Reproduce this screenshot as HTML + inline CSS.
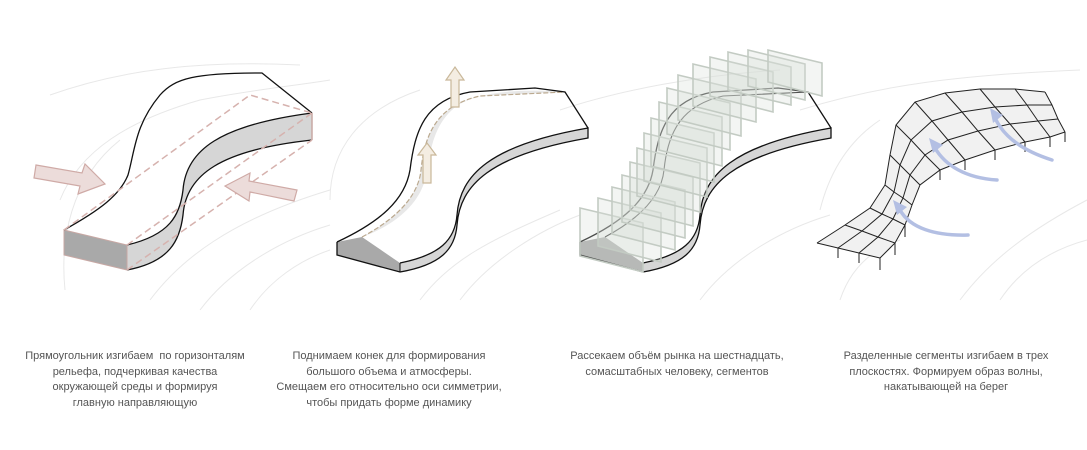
<!DOCTYPE html>
<html><head><meta charset="utf-8"><style>
html,body{margin:0;padding:0;background:#fff;}
body{width:1087px;height:450px;position:relative;overflow:hidden;font-family:"Liberation Sans",sans-serif;}
.cap{position:absolute;top:349px;font-size:11px;line-height:15.5px;color:#555;text-align:center;white-space:nowrap;transform:translateX(-50%);}
svg{position:absolute;left:0;top:0;}
</style></head><body>
<svg width="1087" height="450" viewBox="0 0 1087 450">
<g fill="none" stroke="#e8e8e8" stroke-width="1">
<path d="M50,95 C120,70 200,60 300,65"/>
<path d="M60,200 C80,150 130,120 200,100 C250,90 300,85 330,80"/>
<path d="M65,290 C60,240 70,180 120,140"/>
<path d="M150,300 C180,260 230,220 330,190"/>
<path d="M200,310 C230,270 280,240 330,225"/>
<path d="M250,310 C270,280 300,260 330,250"/>
<path d="M330,200 C330,150 360,110 420,90"/>
<path d="M460,300 C490,260 540,230 580,215"/>
<path d="M420,300 C450,260 490,240 560,210"/>
<path d="M560,110 C620,90 700,75 780,70"/>
<path d="M700,300 C730,260 780,230 830,215"/>
<path d="M800,110 C880,85 960,75 1080,70"/>
<path d="M840,300 C850,270 870,250 900,240"/>
<path d="M960,300 C990,260 1030,230 1087,200"/>
<path d="M1000,300 C1020,270 1050,250 1087,240"/>
<path d="M820,210 C830,170 850,140 880,120"/>
</g>

<!-- Panel 1 -->
<path d="M127,245 C170,235 180,215 183,190 C186,150 220,125 312,113 L312,140 C220,150 186,175 183,215 C180,240 170,262 127,270 Z" fill="#d6d6d6" stroke="none"/>
<path d="M64,230 L127,245 L127,270 L64,255 Z" fill="#a9a9a9" stroke="#c8a8a4" stroke-width="1"/>
<path d="M64,230 C100,210 120,195 128,175 C135,150 135,125 160,95 C175,78 195,73 262,73 L312,113" fill="none" stroke="#111" stroke-width="1.3"/>
<path d="M127,245 C170,235 180,215 183,190 C186,150 220,125 312,113" fill="none" stroke="#111" stroke-width="1.3"/>
<path d="M127,270 C170,262 180,240 183,215 C186,175 220,150 312,140" fill="none" stroke="#111" stroke-width="1.3"/>
<path d="M312,113 L312,140" stroke="#c8a8a4" stroke-width="1.5"/>
<path d="M64,230 L250,95 L312,113 M127,245 L312,113 M127,270 L312,140" fill="none" stroke="#d6b2ae" stroke-width="1.5" stroke-dasharray="7,4"/>
<path d="M36,165 L82,173 L85,164 L105,184 L78,194 L80,186 L34,178 Z" fill="#ecdcda" stroke="#cfaaa6" stroke-width="1.2"/>
<path d="M294,201 L250,192 L249,201 L225,186 L250,173 L249,181 L297,190 Z" fill="#ecdcda" stroke="#cfaaa6" stroke-width="1.2"/>

<!-- Panel 2 -->
<path d="M400,263 C440,255 455,240 457,215 C460,175 490,145 588,128 L588,138 C490,155 460,185 457,225 C455,250 440,265 400,272 Z" fill="#d6d6d6"/>
<path d="M337,242 L362,237 L400,263 L400,272 L337,255 Z" fill="#a9a9a9"/>
<path d="M362,237 C390,222 418,200 421,170 C425,130 440,105 480,96 L565,92 C520,88 470,92 452,110 C430,130 430,160 425,180 C418,205 395,225 362,237 Z" fill="#e8e8e8"/>
<path d="M362,237 C390,222 418,200 421,170 C425,130 440,105 480,96 L565,92" fill="none" stroke="#bba98f" stroke-width="1.2" stroke-dasharray="5,2"/>
<path d="M337,242 C380,222 405,200 410,170 C415,130 425,100 470,92 L535,88 L565,92 L588,128" fill="none" stroke="#111" stroke-width="1.3"/>
<path d="M400,263 C440,255 455,240 457,215 C460,175 490,145 588,128 L588,138 C490,155 460,185 457,225 C455,250 440,265 400,272 L337,255 L337,242" fill="none" stroke="#111" stroke-width="1.3"/>
<path d="M400,263 L400,272" stroke="#111"/>
<path d="M451,107 L451,80 L446,80 L455,67 L464,80 L459,80 L459,107 Z" fill="#f4ede2" stroke="#c9b89a" stroke-width="1.2"/>
<path d="M423,183 L423,155 L418,155 L427,143 L436,155 L431,155 L431,183 Z" fill="#f4ede2" stroke="#c9b89a" stroke-width="1.2"/>

<!-- Panel 3 -->
<path d="M643,263 C683,255 698,240 700,215 C703,175 733,145 831,128 L831,138 C733,155 703,185 700,225 C698,250 683,265 643,272 Z" fill="#d6d6d6"/>
<path d="M580,242 L605,237 L643,263 L643,272 L580,255 Z" fill="#a9a9a9"/>
<path d="M580,242 C623,222 648,200 653,170 C658,130 668,100 713,92 L778,88 L808,92 L831,128" fill="none" stroke="#111" stroke-width="1.3"/>
<path d="M605,237 C633,222 661,200 664,170 C668,130 683,105 723,96 L808,92" fill="none" stroke="#111" stroke-width="1.1"/>
<path d="M643,263 C683,255 698,240 700,215 C703,175 733,145 831,128 L831,138 C733,155 703,185 700,225 C698,250 683,265 643,272 L580,255 L580,242" fill="none" stroke="#111" stroke-width="1.3"/>
<g fill="rgba(215,222,215,0.3)" stroke="#c3cbc3" stroke-width="1.6">
<path d="M580,208 L643,223 L643,272 L580,256 Z"/>
<path d="M598,198 L661,213 L661,262 L598,246 Z"/>
<path d="M612,187 L675,202 L675,250 L612,234 Z"/>
<path d="M622,175 L685,190 L685,238 L622,222 Z"/>
<path d="M630,162 L693,177 L693,226 L630,210 Z"/>
<path d="M637,148 L700,163 L700,212 L637,196 Z"/>
<path d="M644,133 L707,148 L707,197 L644,181 Z"/>
<path d="M651,118 L714,133 L714,182 L651,166 Z"/>
<path d="M659,102 L722,117 L722,166 L659,150 Z"/>
<path d="M667,88 L730,103 L730,150 L667,134 Z"/>
<path d="M678,75 L741,90 L741,136 L678,120 Z"/>
<path d="M693,64 L756,79 L756,122 L693,106 Z"/>
<path d="M710,57 L773,72 L773,112 L710,96 Z"/>
<path d="M728,52 L791,67 L791,105 L728,90 Z"/>
<path d="M748,50 L805,64 L805,100 L748,86 Z"/>
<path d="M768,50 L822,63 L822,96 L768,82 Z"/>
</g>

<!-- Panel 4 -->
<path d="M817,243 L845,225 L870,208 L885,185 L890,155 L896,125 L915,102 L945,93 L980,89 L1015,89 L1045,92 L1065,132 L1050,137 L1025,142 L995,150 L965,160 L940,170 L920,185 L912,205 L905,225 L895,243 L880,258 Z" fill="#f1f1f1"/>
<g fill="none" stroke="#222" stroke-width="1">
<polyline points="817,243 845,225 870,208 885,185 890,155 896,125 915,102 945,93 980,89 1015,89 1045,92"/>
<polyline points="838,248 862,231 882,214 894,192 900,165 911,140 932,121 962,112 995,107 1027,105 1052,105"/>
<polyline points="859,253 878,237 893,219 903,198 910,175 925,155 948,140 978,131 1010,124 1038,121 1058,119"/>
<polyline points="880,258 895,243 905,225 912,205 920,185 940,170 965,160 995,150 1025,142 1050,137 1065,132"/>
<path d="M817,243 L838,248 L859,253 L880,258 M845,225 L862,231 L878,237 L895,243 M870,208 L882,214 L893,219 L905,225 M885,185 L894,192 L903,198 L912,205 M890,155 L900,165 L910,175 L920,185 M896,125 L911,140 L925,155 L940,170 M915,102 L932,121 L948,140 L965,160 M945,93 L962,112 L978,131 L995,150 M980,89 L995,107 L1010,124 L1025,142 M1015,89 L1027,105 L1038,121 L1050,137 M1045,92 L1052,105 L1058,119 L1065,132"/>
<path d="M880,258 v12 M895,243 v12 M905,225 v12 M838,248 v10 M859,253 v10 M965,160 v10 M995,150 v10 M1025,142 v10 M1050,137 v10 M1065,132 v10 M940,170 v10"/>
</g>
<g fill="none" stroke="#b3bfe3" stroke-width="3.5" stroke-linecap="round">
<path d="M968,235 C935,236 910,228 900,210"/>
<path d="M997,180 C965,178 945,165 935,148"/>
<path d="M1052,160 C1020,150 1003,135 995,118"/>
</g>
<g fill="#b3bfe3">
<path d="M893,200 L907,207 L897,215 Z"/>
<path d="M929,138 L943,145 L933,153 Z"/>
<path d="M990,108 L1003,115 L993,123 Z"/>
</g>
</svg>

<div class="cap" style="left:135px">Прямоугольник изгибаем&nbsp; по горизонталям<br>рельефа, подчеркивая качества<br>окружающей среды и формируя<br>главную направляющую</div>
<div class="cap" style="left:389px">Поднимаем конек для формирования<br>большого объема и атмосферы.<br>Смещаем его относительно оси симметрии,<br>чтобы придать форме динамику</div>
<div class="cap" style="left:677px">Рассекаем объём рынка на шестнадцать,<br>сомасштабных человеку, сегментов</div>
<div class="cap" style="left:946px">Разделенные сегменты изгибаем в трех<br>плоскостях. Формируем образ волны,<br>накатывающей на берег</div>
</body></html>
